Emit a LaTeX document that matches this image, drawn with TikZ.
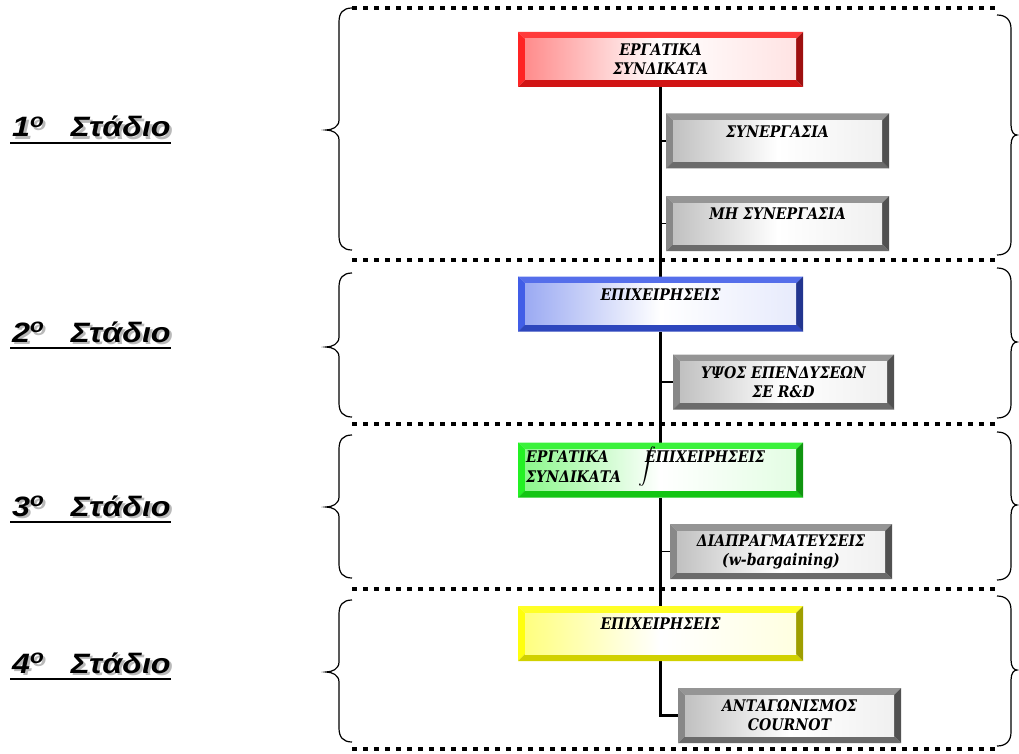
\documentclass[tikz,border=0pt]{standalone}
\usepackage{fontspec}
\newfontfamily\boxfont{DejaVu Serif}[FakeStretch=0.88]
\newfontfamily\stagefont{Liberation Sans}[FakeStretch=1.15]
\usetikzlibrary{backgrounds}

\definecolor{bevred}{RGB}{255,25,25}
\definecolor{bevblue}{RGB}{55,85,230}
\definecolor{bevgreen}{RGB}{25,240,25}
\definecolor{bevyellow}{RGB}{255,255,0}
\definecolor{bevgray}{RGB}{130,130,130}

% curly brace: end x, top y, tip y, bottom y
\newcommand{\curlleft}[4]{%
  \draw[curl] (#1,#2) .. controls (#1-9,#2) and (#1-13,#2+5) .. (#1-13,#2+14)
    -- (#1-13,#3-10) .. controls (#1-13,#3-3) and (#1-20,#3) .. (#1-26,#3)
    .. controls (#1-20,#3) and (#1-13,#3+3) .. (#1-13,#3+10)
    -- (#1-13,#4-14) .. controls (#1-13,#4-5) and (#1-9,#4) .. (#1,#4);}
\newcommand{\curlright}[4]{%
  \draw[curl] (#1,#2) .. controls (#1+9,#2) and (#1+14,#2+5) .. (#1+14,#2+14)
    -- (#1+14,#3-10) .. controls (#1+14,#3-3) and (#1+17,#3) .. (#1+20,#3)
    .. controls (#1+17,#3) and (#1+14,#3+3) .. (#1+14,#3+10)
    -- (#1+14,#4-14) .. controls (#1+14,#4-5) and (#1+9,#4) .. (#1,#4);}

\begin{document}
\begin{tikzpicture}[x=1pt, y=-1pt,
    bevel/.style={rectangle, draw=none, fill=white, inner sep=0pt, minimum height=55pt,
      font=\boxfont\bfseries\itshape\fontsize{16}{19}\selectfont, align=center,
      path picture={
        \coordinate (pa) at (path picture bounding box.north west);
        \coordinate (pb) at (path picture bounding box.north east);
        \coordinate (pc) at (path picture bounding box.south east);
        \coordinate (pd) at (path picture bounding box.south west);
        \fill[#1!85!white] (pa) -- (pb) -- ([shift={(-7pt,-7pt)}]pb) -- ([shift={(7pt,-7pt)}]pa) -- cycle;
        \fill[#1!95!white] (pa) -- ([shift={(7pt,-7pt)}]pa) -- ([shift={(7pt,7pt)}]pd) -- (pd) -- cycle;
        \fill[#1!82!black] (pd) -- ([shift={(7pt,7pt)}]pd) -- ([shift={(-7pt,7pt)}]pc) -- (pc) -- cycle;
        \fill[#1!62!black] (pb) -- (pc) -- ([shift={(-7pt,7pt)}]pc) -- ([shift={(-7pt,-7pt)}]pb) -- cycle;
        \shade[left color=#1!50!white, right color=#1!12!white, middle color=white]
          ([shift={(7pt,-7pt)}]pa) rectangle ([shift={(-7pt,7pt)}]pc);
      }},
    colbox/.style={bevel=#1, minimum width=285pt},
    graybox/.style={bevel=bevgray, minimum width=223pt},
    boxtxt/.style={inner sep=0pt, font=\boxfont\bfseries\itshape\fontsize{16}{19}\selectfont},
    stage/.style={inner sep=0pt, font=\stagefont\bfseries\itshape\fontsize{28}{30}\selectfont},
    uline/.style={line width=2.5pt},
    sepline/.style={line width=4.5pt, dash pattern=on 5pt off 6pt},
    curl/.style={line width=1.2pt},
    trunk/.style={line width=2.5pt},
    stub/.style={line width=1.4pt}]
  \useasboundingbox (0,0) rectangle (1019,754);

  % separators
  \draw[sepline] (352,8) -- (998,8);
  \draw[sepline] (352,260) -- (998,260);
  \draw[sepline] (352,424) -- (998,424);
  \draw[sepline] (352,589) -- (998,589);
  \draw[sepline] (352,749) -- (998,749);

  % braces
  \curlleft{352}{8}{130}{250}
  \curlleft{352}{273}{347}{417}
  \curlleft{352}{435}{507}{578}
  \curlleft{352}{600}{672}{742}
  \curlright{997}{15}{135}{255}
  \curlright{997}{268}{342}{418}
  \curlright{997}{432}{505}{580}
  \curlright{997}{596}{670}{746}

  % stage labels
  \node[stage, anchor=base west, text=gray!55] (st1s) at (14.5,139.5) {1\textsuperscript{o}\hspace{0.95em}Στάδιο};
  \node[stage, anchor=base west] (st1) at (12,137) {1\textsuperscript{o}\hspace{0.95em}Στάδιο};
  \node[stage, anchor=base west, text=gray!55] (st2s) at (14.5,344.5) {2\textsuperscript{o}\hspace{0.95em}Στάδιο};
  \node[stage, anchor=base west] (st2) at (12,342) {2\textsuperscript{o}\hspace{0.95em}Στάδιο};
  \node[stage, anchor=base west, text=gray!55] (st3s) at (14.5,518.5) {3\textsuperscript{o}\hspace{0.95em}Στάδιο};
  \node[stage, anchor=base west] (st3) at (12,516) {3\textsuperscript{o}\hspace{0.95em}Στάδιο};
  \node[stage, anchor=base west, text=gray!55] (st4s) at (14.5,675.5) {4\textsuperscript{o}\hspace{0.95em}Στάδιο};
  \node[stage, anchor=base west] (st4) at (12,673) {4\textsuperscript{o}\hspace{0.95em}Στάδιο};
  \draw[uline] ([shift={(-2pt,-6pt)}]st1.base west) -- ([yshift=-6pt]st1.base east);
  \draw[uline] ([shift={(-2pt,-6pt)}]st2.base west) -- ([yshift=-6pt]st2.base east);
  \draw[uline] ([shift={(-2pt,-6pt)}]st3.base west) -- ([yshift=-6pt]st3.base east);
  \draw[uline] ([shift={(-2pt,-6pt)}]st4.base west) -- ([yshift=-6pt]st4.base east);

  % boxes
  \node[colbox=bevred] (unions) at (660.5,59.5) {ΕΡΓΑΤΙΚΑ\\ΣΥΝΔΙΚΑΤΑ};
  \node[graybox] (coop) at (777.5,141) {ΣΥΝΕΡΓΑΣΙΑ\\~};
  \node[graybox] (nocoop) at (777.5,223.5) {ΜΗ ΣΥΝΕΡΓΑΣΙΑ\\~};
  \node[colbox=bevblue] (firmsA) at (660.5,304) {ΕΠΙΧΕΙΡΗΣΕΙΣ\\~};
  \node[graybox, minimum width=221pt] (rnd) at (783.5,382) {ΥΨΟΣ ΕΠΕΝΔΥΣΕΩΝ\\ΣΕ R\&D};
  \node[colbox=bevgreen] (both) at (660.5,470) {};
  \node[boxtxt, anchor=base west] (bothu1) at (526,462) {ΕΡΓΑΤΙΚΑ};
  \node[boxtxt, anchor=base west] (bothu2) at (526,482) {ΣΥΝΔΙΚΑΤΑ};
  \node[boxtxt, anchor=base west] (bothf) at (645,462) {ΕΠΙΧΕΙΡΗΣΕΙΣ};
  \node[inner sep=0pt, scale=1.8] (bothint) at (647,466) {$\displaystyle\int$};
  \node[graybox, minimum width=222pt] (wbarg) at (781,551.5) {ΔΙΑΠΡΑΓΜΑΤΕΥΣΕΙΣ\\(w-bargaining)};
  \node[colbox=bevyellow] (firmsB) at (660.5,633.5) {ΕΠΙΧΕΙΡΗΣΕΙΣ\\~};
  \node[graybox] (cournot) at (789.5,715.5) {ΑΝΤΑΓΩΝΙΣΜΟΣ\\COURNOT};

  % tree lines
  \begin{scope}[on background layer]
    \draw[trunk] (unions.south) |- (cournot.west);
    \draw[stub] (unions.south |- coop.west) -- (coop.west);
    \draw[stub] (unions.south |- nocoop.west) -- (nocoop.west);
    \draw[stub] (unions.south |- rnd.west) -- (rnd.west);
    \draw[stub] (unions.south |- wbarg.west) -- (wbarg.west);
  \end{scope}
\end{tikzpicture}
\end{document}
